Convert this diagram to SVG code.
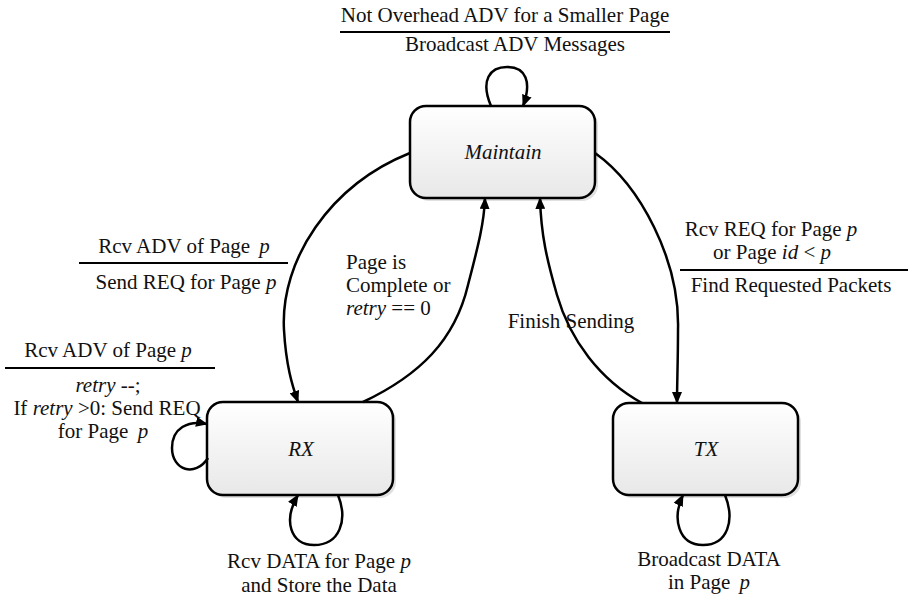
<svg xmlns="http://www.w3.org/2000/svg" width="909" height="600" viewBox="0 0 909 600">
<style>
text{font-family:'Liberation Serif','DejaVu Serif',serif;font-size:21px;fill:#111}
.c{text-anchor:middle}
.i{font-style:italic}
.node{fill:url(#g);stroke:#000;stroke-width:2.5}
.sh{fill:#000;opacity:0.12}
.edge{fill:none;stroke:#000;stroke-width:2.5;marker-end:url(#ah)}
.rule{stroke:#000;stroke-width:2}
</style>
<defs>
<linearGradient id="g" x1="0" y1="0" x2="0" y2="1">
<stop offset="0" stop-color="#ffffff"/>
<stop offset="1" stop-color="#e8e8e8"/>
</linearGradient>
<marker id="ah" viewBox="0 0 12 10" refX="11" refY="5" markerWidth="12" markerHeight="10" markerUnits="userSpaceOnUse" orient="auto">
<path d="M0,0 L12,5 L0,10 z" fill="#000"/>
</marker>
</defs>
<g id="Maintain">
<rect class="sh" x="413" y="109" width="185" height="92" rx="16"/>
<rect class="node" x="410" y="106" width="185" height="92" rx="16"/>
<text class="c i" x="503" y="159" font-family="Liberation Serif, serif">Maintain</text>
</g>
<g id="RX">
<rect class="sh" x="210" y="405" width="186" height="93" rx="16"/>
<rect class="node" x="207" y="402" width="186" height="93" rx="16"/>
<text class="c i" x="301" y="456">RX</text>
</g>
<g id="TX">
<rect class="sh" x="616" y="406" width="185" height="92" rx="16"/>
<rect class="node" x="613" y="403" width="185" height="92" rx="16"/>
<text class="c i" x="706" y="456">TX</text>
</g>
<g id="connectors">
<path class="edge" d="M491,106 C480,80 490,67 507,67 C526,67 532,82 523,106"/>
<path class="edge" d="M410,153 C330,185 280,260 284,330 C286,365 292,385 298,402"/>
<path class="edge" d="M363,402 C420,375 455,340 468,285 C477,250 484,225 485,198"/>
<path class="edge" d="M642,403 C600,380 570,340 557,295 C547,260 541,235 540,198"/>
<path class="edge" d="M595,153 C640,185 680,260 678,330 C678,360 677,385 677,403"/>
<path class="edge" d="M208,458 C195,478 172,470 172,448 C172,428 188,420 207,424"/>
<path class="edge" d="M338,495 C348,520 340,545 314,545 C290,545 283,520 298,495"/>
<path class="edge" d="M725,495 C735,520 728,545 703,545 C678,545 672,518 683,495"/>
</g>
<g id="labels">
<text class="c" x="505" y="22">Not Overhead ADV for a Smaller Page</text>
<line class="rule" x1="340" y1="32" x2="670" y2="32"/>
<text class="c" x="515" y="51">Broadcast ADV Messages</text>

<text class="c" x="184" y="253">Rcv ADV of Page <tspan class="i" dx="4">p</tspan></text>
<line class="rule" x1="79" y1="263" x2="288" y2="263"/>
<text class="c" x="186" y="289">Send REQ for Page <tspan class="i">p</tspan></text>

<text class="c" x="108" y="357">Rcv ADV of Page <tspan class="i">p</tspan></text>
<line class="rule" x1="5" y1="368" x2="215" y2="368"/>
<text class="c" x="108" y="392"><tspan class="i">retry</tspan> --;</text>
<text class="c" x="107" y="415">If <tspan class="i">retry</tspan> &gt;0: Send REQ</text>
<text class="c" x="103" y="438">for Page <tspan class="i" dx="4">p</tspan></text>

<text x="346" y="269">Page is</text>
<text x="346" y="292">Complete or</text>
<text x="346" y="315"><tspan class="i">retry</tspan> == 0</text>

<text class="c" x="571" y="328">Finish Sending</text>

<text class="c" x="771" y="236">Rcv REQ for Page <tspan class="i">p</tspan></text>
<text class="c" x="772" y="259">or Page <tspan class="i">id</tspan> &lt; <tspan class="i">p</tspan></text>
<line class="rule" x1="680" y1="270" x2="908" y2="270"/>
<text class="c" x="791" y="292">Find Requested Packets</text>

<text class="c" x="319" y="568">Rcv DATA for Page <tspan class="i">p</tspan></text>
<text class="c" x="319" y="592">and Store the Data</text>

<text class="c" x="709" y="566">Broadcast DATA</text>
<text class="c" x="709" y="589">in Page <tspan class="i" dx="4">p</tspan></text>
</g>
</svg>
